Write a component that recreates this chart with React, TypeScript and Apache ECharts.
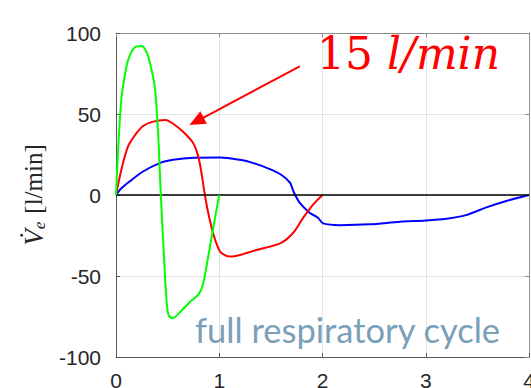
import React, { useEffect, useRef } from "react";
import * as echarts from "echarts";

// Expiratory flow traces over one breathing cycle, time in seconds
const greenT = [0, 0.05, 0.1, 0.133, 0.18, 0.246, 0.29, 0.327, 0.375, 0.408, 0.434, 0.456, 0.489, 0.511, 0.547, 0.618, 0.715, 0.803, 0.845, 0.893, 0.94, 1.0];
const greenV = [0, 58, 79, 86, 91, 92, 89, 82, 67, 38, 0, -27.6, -65, -74.5, -76, -72.5, -66, -61, -54.5, -38, -21, 0];

const redT = [0, 0.052, 0.117, 0.197, 0.262, 0.359, 0.479, 0.553, 0.65, 0.748, 0.796, 0.828, 0.861, 0.893, 0.94, 0.99, 1.023, 1.104, 1.2, 1.36, 1.6, 1.717, 1.814, 1.911, 2.0];
const redV = [0, 15.6, 30, 38, 42.6, 45.3, 46.3, 44, 39, 32, 24, 13.5, 0, -11, -23.4, -32.8, -35.9, -38, -37, -34, -29.5, -23.3, -14, -5.8, 0];

const blueT = [0, 0.05, 0.133, 0.262, 0.424, 0.553, 0.748, 1.006, 1.2, 1.33, 1.49, 1.6, 1.685, 1.72, 1.778, 1.875, 1.956, 2.006, 2.17, 2.46, 2.75, 3.0, 3.2, 3.39, 3.58, 3.78, 4.0];
const blueV = [0, 4, 8.4, 14.5, 19.7, 21.7, 23, 23.2, 21.7, 19.7, 16, 12.5, 7.6, 2, -4.7, -10.9, -14, -17.5, -18.6, -18.1, -16.5, -15.7, -14.6, -12.4, -7.8, -3.7, 0];

const xTicks = [0, 1, 2, 3, 4];
const yTicks = [-100, -50, 0, 50, 100];

// Arrow pointing at the 15 l/min trace (from, to) in data units
const arrowFrom = [1.78, 79.4];
const arrowTo = [0.78, 45.5];

const pairs = (t: number[], v: number[]) => t.map((x, i) => [x, v[i]]);

export default function App() {
  const ref = useRef<HTMLDivElement>(null);

  useEffect(() => {
    if (!ref.current) return;
    const chart = echarts.init(ref.current, undefined, { renderer: "svg" });
    const labelFont = {
      fontFamily: "Liberation Sans, Arial, sans-serif",
      fontSize: 21,
      color: "#262626",
    };
    const serif = "Liberation Serif, Times New Roman, serif";
    const gridLine = { show: true, lineStyle: { color: "#e3e3e3", width: 1 } };
    chart.setOption({
      animation: false,
      backgroundColor: "#ffffff",
      grid: { left: 116, right: 2, top: 33, bottom: 31, containLabel: false, outerBoundsMode: "none" },
      xAxis: [
        {
          type: "value",
          position: "bottom",
          min: xTicks[0],
          max: xTicks[xTicks.length - 1],
          interval: 1,
          axisLine: { show: true, onZero: false, lineStyle: { color: "#555", width: 1 } },
          axisTick: { show: true, inside: true, length: 4, lineStyle: { color: "#555" } },
          axisLabel: { ...labelFont, margin: 13 },
          splitLine: gridLine,
        },
        {
          type: "value",
          position: "top",
          min: xTicks[0],
          max: xTicks[xTicks.length - 1],
          interval: 1,
          axisLine: { show: true, onZero: false, lineStyle: { color: "#8c8c8c", width: 1 } },
          axisTick: { show: true, inside: true, length: 4, lineStyle: { color: "#8c8c8c" } },
          axisLabel: { show: false },
          splitLine: { show: false },
        },
      ],
      yAxis: [
        {
          type: "value",
          position: "left",
          min: yTicks[0],
          max: yTicks[yTicks.length - 1],
          interval: 50,
          axisLine: { show: true, onZero: false, lineStyle: { color: "#555", width: 1 } },
          axisTick: { show: true, inside: true, length: 4, lineStyle: { color: "#555" } },
          axisLabel: { ...labelFont, margin: 15 },
          splitLine: gridLine,
          name: "{v|V̇}{s|e}{u|[l/min]}",
          nameLocation: "middle",
          nameGap: 68,
          nameRotate: 90,
          nameTextStyle: {
            fontFamily: serif,
            color: "#262626",
            rich: {
              v: { fontFamily: serif, fontStyle: "italic", fontSize: 27, color: "#262626" },
              s: { fontFamily: serif, fontStyle: "italic", fontSize: 17, color: "#262626", padding: [12, 8, 0, 0] },
              u: { fontFamily: serif, fontSize: 25, color: "#262626" },
            },
          },
        },
        {
          type: "value",
          position: "right",
          min: yTicks[0],
          max: yTicks[yTicks.length - 1],
          interval: 50,
          axisLine: { show: true, onZero: false, lineStyle: { color: "#8c8c8c", width: 1 } },
          axisTick: { show: true, inside: true, length: 4, lineStyle: { color: "#8c8c8c" } },
          axisLabel: { show: false },
          splitLine: { show: false },
        },
      ],
      series: [
        {
          type: "line",
          data: pairs(blueT, blueV),
          showSymbol: false,
          symbol: "none",
          smooth: 0.3,
          lineStyle: { color: "#0000ff", width: 2 },
          z: 3,
          markLine: {
            silent: true,
            symbol: ["none", "none"],
            label: { show: false },
            lineStyle: { color: "#000000", width: 1.5, type: "solid" },
            data: [{ yAxis: 0 }],
          },
        },
        {
          type: "line",
          data: pairs(redT, redV),
          showSymbol: false,
          symbol: "none",
          smooth: 0.3,
          lineStyle: { color: "#ff0000", width: 2 },
          z: 4,
          markLine: {
            silent: true,
            symbol: ["none", "triangle"],
            symbolSize: [14, 16],
            label: { show: false },
            lineStyle: { color: "#ff0000", width: 2, type: "solid" },
            data: [[{ coord: arrowFrom }, { coord: arrowTo }]],
          },
        },
        {
          type: "line",
          data: pairs(greenT, greenV),
          showSymbol: false,
          symbol: "none",
          smooth: 0.3,
          lineStyle: { color: "#00ff00", width: 2 },
          z: 5,
        },
      ],
      graphic: [
        {
          type: "text",
          left: 317,
          top: 31,
          z: 10,
          style: {
            text: "{a|15}{b|l/min}",
            rich: {
              a: { fontFamily: "DejaVu Serif, serif", fontSize: 44, fill: "#ff0000", padding: [0, 14, 0, 0] },
              b: { fontFamily: "DejaVu Serif, serif", fontStyle: "italic", fontSize: 44, fill: "#ff0000" },
            },
          },
        },
        {
          type: "text",
          left: 195,
          top: 312,
          z: 10,
          style: {
            text: "full respiratory cycle",
            fontFamily: "Lato, sans-serif",
            fontSize: 34.5,
            fill: "#7aa0b9",
          },
        },
      ],
    });
    return () => chart.dispose();
  }, []);

  return (
    <div
      ref={ref}
      style={{ position: "fixed", left: 0, top: 0, width: 531, height: 388, background: "#fff" }}
    />
  );
}
